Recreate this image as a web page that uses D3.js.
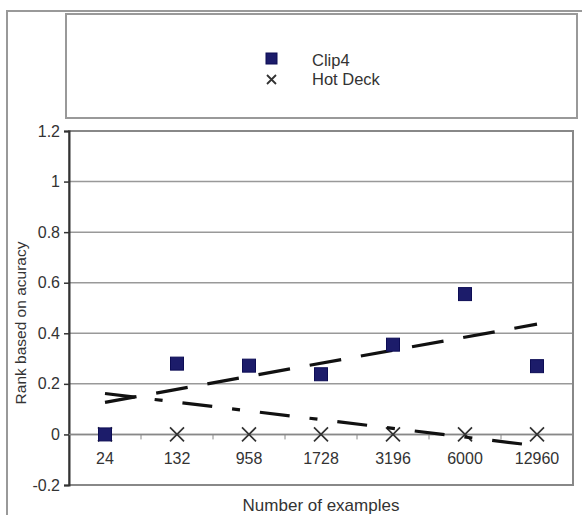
<!DOCTYPE html>
<html><head><meta charset="utf-8">
<script src="https://cdn.jsdelivr.net/npm/d3@7"></script>
<style>body{margin:0;background:#fff}svg{display:block}text{font-family:"Liberation Sans",Arial,sans-serif;fill:#333}</style>
</head><body>
<script>
const categories = ["24","132","958","1728","3196","6000","12960"];
const clip4 = [0, 0.28, 0.272, 0.238, 0.355, 0.555, 0.27];
const hotDeck = [0, 0, 0, 0, 0, 0, 0];
const clip4Trend = [0.127, 0.436];      // start/end at first/last category
const hotDeckTrend = [0.162, -0.045];
const yTicks = [-0.2, 0, 0.2, 0.4, 0.6, 0.8, 1, 1.2];
const yTickLabels = ["-0.2","0","0.2","0.4","0.6","0.8","1","1.2"];

const W = 582, H = 515;
const svg = d3.select("body").append("svg").attr("width", W).attr("height", H);

// outer frame
svg.append("rect").attr("x",7).attr("y",11).attr("width",600).attr("height",600)
  .attr("fill","none").attr("stroke","#999").attr("stroke-width",2);

// legend box
svg.append("rect").attr("x",66).attr("y",14).attr("width",511).attr("height",104)
  .attr("fill","#fff").attr("stroke","#999").attr("stroke-width",2);

const L = 69, R = 573, T = 131, B = 485;
const x = d3.scaleBand().domain(categories).range([L, R]);
const y = d3.scaleLinear().domain([-0.2, 1.2]).range([B, T]);

// gridlines
svg.append("g").selectAll("line").data(yTicks.filter(v=>v>-0.2 && v<1.2)).join("line")
  .attr("x1",L).attr("x2",R).attr("y1",d=>y(d)).attr("y2",d=>y(d))
  .attr("stroke","#999").attr("stroke-width",1.5);

// plot border
svg.append("rect").attr("x",L).attr("y",T).attr("width",R-L).attr("height",B-T)
  .attr("fill","none").attr("stroke","#888").attr("stroke-width",2);

// y axis
const yAxis = svg.append("g").attr("transform",`translate(${L},0)`)
  .call(d3.axisLeft(y).tickValues(yTicks).tickFormat((d,i)=>yTickLabels[i]).tickSize(5).tickPadding(4));
yAxis.select(".domain").attr("stroke","#333").attr("stroke-width",2);
yAxis.selectAll(".tick line").attr("stroke","#333").attr("stroke-width",1.5);
yAxis.selectAll("text").style("font-size","16px").attr("fill","#555");

// x axis at y=0
const xg = svg.append("g").attr("transform",`translate(0,${y(0)})`);
xg.append("line").attr("x1",L).attr("x2",R).attr("stroke","#888").attr("stroke-width",1.5);
xg.selectAll(".tk").data(categories.slice(1)).join("line").attr("class","tk")
  .attr("x1",d=>x(d)).attr("x2",d=>x(d)).attr("y1",0).attr("y2",5)
  .attr("stroke","#888").attr("stroke-width",1);
xg.selectAll("text").data(categories).join("text")
  .attr("x",d=>x(d)+x.bandwidth()/2).attr("y",30)
  .attr("text-anchor","middle").style("font-size","16px").attr("fill","#555")
  .text(d=>d);

const cx = d => x(d)+x.bandwidth()/2;
const first = categories[0], last = categories[categories.length-1];

// Hot Deck markers (X)
const xs = 7;
svg.append("g").selectAll("path").data(categories.map((c,i)=>[c,hotDeck[i]])).join("path")
  .attr("d",d=>{const px=cx(d[0]),py=y(d[1]);return `M${px-xs},${py-xs}L${px+xs},${py+xs}M${px-xs},${py+xs}L${px+xs},${py-xs}`;})
  .attr("stroke","#333").attr("stroke-width",1.7).attr("fill","none");

// trendlines
svg.append("line").attr("x1",cx(first)).attr("x2",cx(last))
  .attr("y1",y(hotDeckTrend[0])).attr("y2",y(hotDeckTrend[1]))
  .attr("stroke","#111").attr("stroke-width",3.2).attr("stroke-dasharray","30 20 8 20");
svg.append("line").attr("x1",cx(first)).attr("x2",cx(last))
  .attr("y1",y(clip4Trend[0])).attr("y2",y(clip4Trend[1]))
  .attr("stroke","#111").attr("stroke-width",3.2).attr("stroke-dasharray","32 20");

// Clip4 markers
const s = 13;
svg.append("g").selectAll("rect").data(categories.map((c,i)=>[c,clip4[i]])).join("rect")
  .attr("x",d=>cx(d[0])-s/2).attr("y",d=>y(d[1])-s/2).attr("width",s).attr("height",s)
  .attr("fill","#1c1c6a").attr("stroke","#0d0d55").attr("stroke-width",1);

// legend content
svg.append("rect").attr("x",266).attr("y",53).attr("width",11).attr("height",11)
  .attr("fill","#1c1c6a").attr("stroke","#0d0d55");
svg.append("text").attr("x",312).attr("y",66).style("font-size","16.5px").text("Clip4");
svg.append("path").attr("d","M267,75L276,84M267,84L276,75").attr("stroke","#333").attr("stroke-width",1.8);
svg.append("text").attr("x",312).attr("y",85).style("font-size","16.5px").text("Hot Deck");

// axis titles
svg.append("text").attr("transform",`translate(26,${(T+B)/2+15}) rotate(-90)`)
  .attr("text-anchor","middle").style("font-size","15.5px").text("Rank based on acuracy");
svg.append("text").attr("x",(L+R)/2).attr("y",511).attr("text-anchor","middle")
  .style("font-size","17px").text("Number of examples");
</script>
</body></html>
